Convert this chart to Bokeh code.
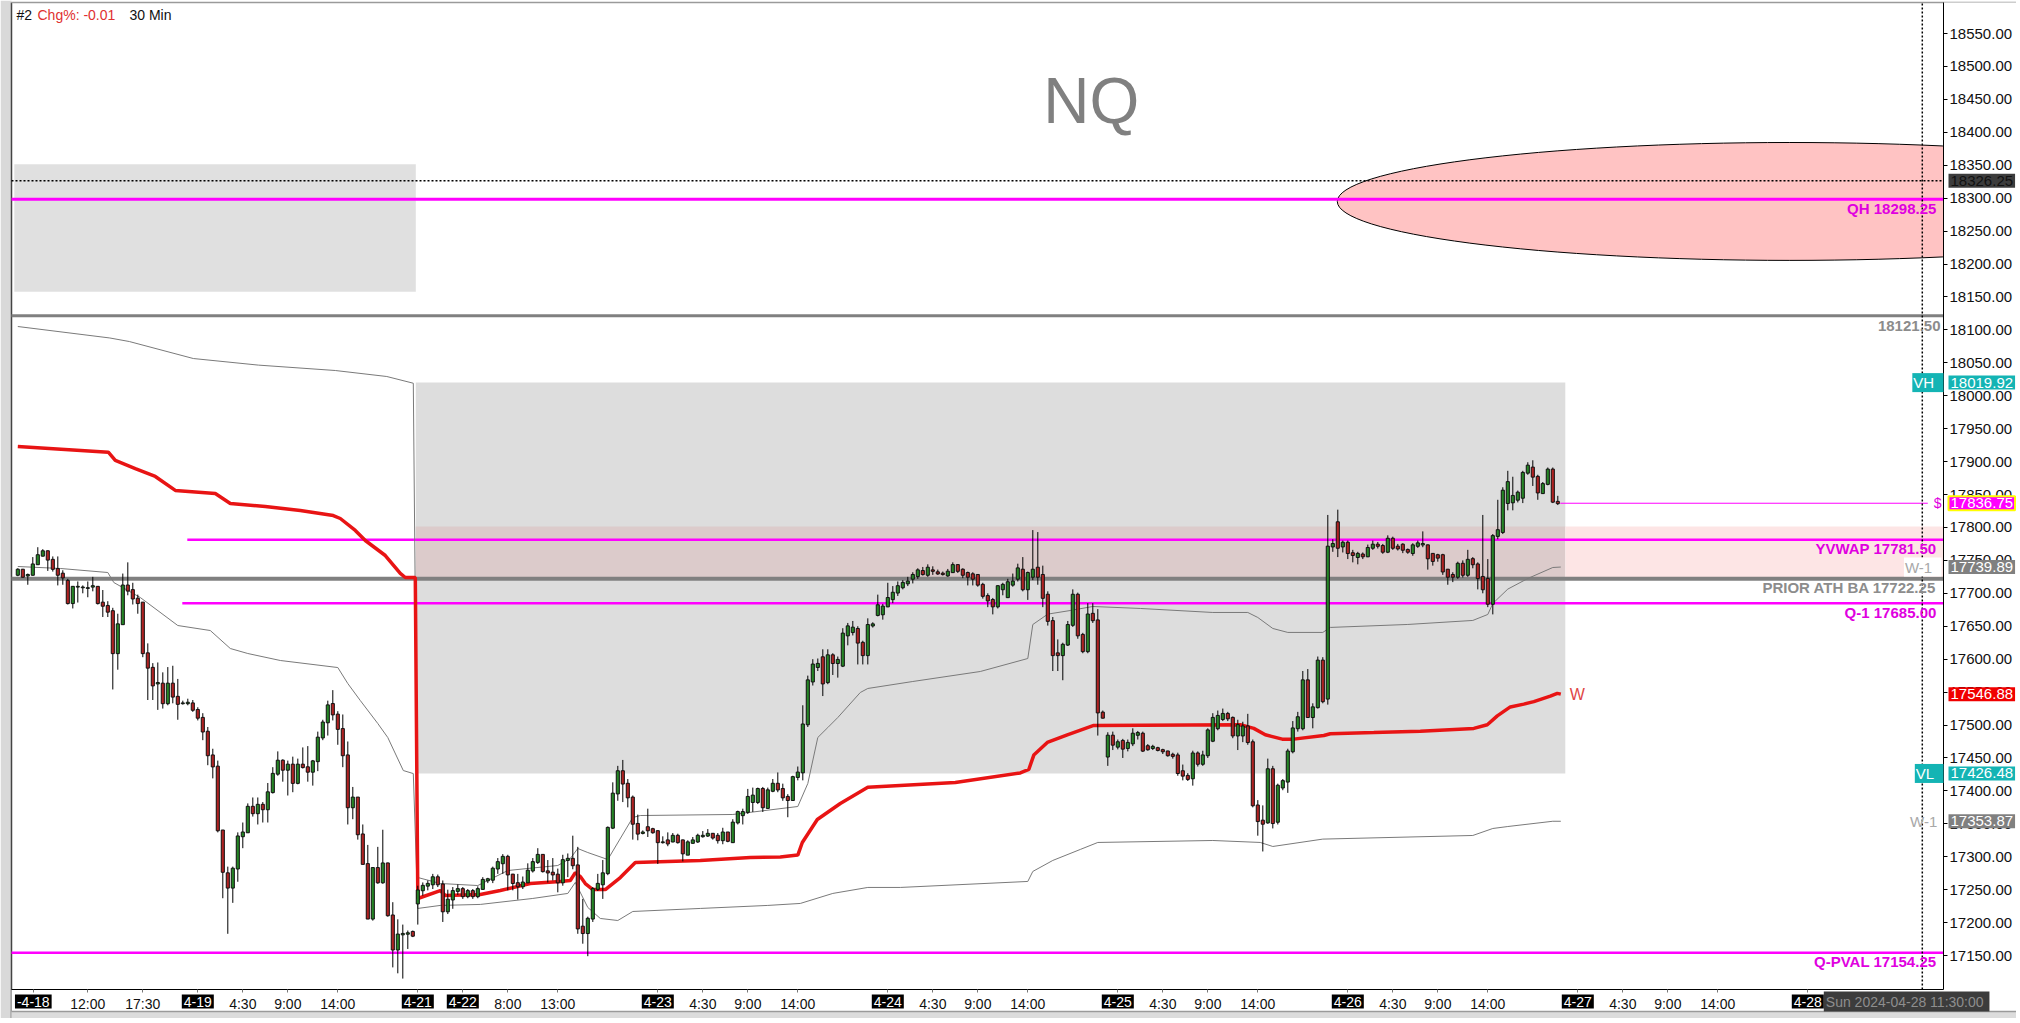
from bokeh.plotting import figure
from bokeh.models import Range1d, FixedTicker, PrintfTickFormatter, Label, ColumnDataSource
from bokeh.embed import file_html
from bokeh.resources import INLINE

FONT = "Liberation Sans"

# ---------------- candles (30 min bars, index = bar number) ----------------
opens = [
 17728,17736,17727,17728,17744,17757,17764,17751,17737,17730,
 17719,17685,17710,17709,17708,17710,17710,17686,17681,17673,
 17609,17653,17712,17705,17692,17686,17609,17587,17563,17563,
 17533,17563,17543,17533,17533,17533,17523,17511,17490,17454,
 17437,17340,17275,17253,17282,17331,17337,17376,17366,17379,
 17372,17398,17426,17446,17432,17440,17412,17440,17436,17429,
 17445,17481,17504,17532,17516,17494,17454,17375,17390,17334,
 17289,17206,17283,17261,17290,17211,17159,17182,17183,17186,
 17229,17249,17256,17258,17269,17258,17217,17235,17248,17251,
 17240,17248,17240,17251,17264,17265,17282,17290,17300,17273,
 17260,17255,17261,17279,17292,17303,17278,17276,17273,17261,
 17295,17297,17287,17194,17184,17206,17251,17258,17275,17344,
 17396,17430,17411,17390,17350,17336,17345,17342,17339,17322,
 17325,17323,17332,17325,17303,17321,17323,17331,17332,17335,
 17332,17325,17337,17322,17352,17363,17368,17383,17383,17403,
 17374,17400,17411,17403,17391,17386,17421,17428,17501,
 17566,17588,17603,17565,17606,17594,17590,17636,17641,17646,
 17625,17606,17651,17667,17668,17680,17691,17701,17709,17715,
 17722,17726,17734,17728,17735,17732,17730,17727,17732,17743,
 17736,17731,17729,17728,17713,17696,17690,17680,17706,17694,
 17713,17722,17736,17706,17725,17739,17728,17698,17658,17609,
 17606,17622,17652,17698,17637,17612,17669,17659,17519,17452,
 17484,17467,17476,17465,17472,17485,17487,17468,17465,17465,
 17462,17460,17455,17454,17430,17423,17419,17457,17441,17454,
 17476,17495,17509,17517,17511,17484,17484,17498,17474,17378,
 17355,17352,17433,17353,17405,17414,17460,17495,17495,17568,
 17512,17527,17598,17540,17771,17808,17771,17777,17761,17755,
 17759,17756,17769,17774,17772,17763,17783,17771,17774,17766,
 17761,17772,17774,17773,17760,17758,17758,17736,17728,17725,
 17745,17728,17752,17744,17725,17722,17684,17787,17793,17837,
 17838,17842,17845,17883,17891,17877,17852,17866,17888,17839]
highs = [
 17738,17737,17730,17755,17770,17767,17765,17756,17756,17735,
 17722,17711,17718,17712,17718,17725,17711,17705,17688,17678,
 17669,17730,17747,17716,17698,17686,17624,17594,17595,17580,
 17588,17590,17570,17537,17540,17538,17527,17518,17497,17464,
 17446,17340,17285,17285,17337,17352,17381,17390,17390,17383,
 17412,17436,17460,17448,17446,17452,17449,17466,17468,17447,
 17490,17508,17537,17553,17521,17516,17475,17406,17390,17349,
 17318,17283,17315,17341,17291,17231,17205,17197,17188,17188,
 17256,17261,17264,17274,17273,17264,17250,17254,17258,17254,
 17251,17251,17255,17269,17268,17285,17298,17304,17303,17274,
 17274,17270,17290,17298,17313,17303,17295,17298,17282,17303,
 17305,17332,17315,17236,17209,17254,17274,17295,17346,17413,
 17438,17447,17418,17393,17364,17340,17373,17344,17340,17331,
 17337,17336,17335,17326,17325,17330,17335,17339,17342,17336,
 17336,17344,17337,17357,17370,17373,17403,17405,17405,17406,
 17405,17418,17428,17411,17395,17423,17437,17530,17575,
 17600,17601,17615,17615,17609,17604,17647,17655,17658,17650,
 17628,17662,17656,17698,17684,17716,17711,17718,17720,17725,
 17732,17738,17740,17744,17741,17736,17733,17737,17747,17744,
 17738,17733,17732,17729,17716,17700,17693,17712,17716,17722,
 17730,17745,17755,17733,17796,17793,17742,17703,17664,17630,
 17625,17658,17706,17701,17640,17685,17685,17676,17522,17489,
 17490,17478,17479,17478,17495,17491,17490,17471,17470,17467,
 17464,17461,17458,17458,17440,17427,17461,17460,17461,17495,
 17518,17522,17525,17520,17513,17508,17505,17517,17478,17386,
 17378,17449,17438,17411,17418,17464,17506,17520,17582,17585,
 17533,17604,17603,17819,17782,17827,17780,17780,17766,17763,
 17762,17774,17780,17778,17775,17788,17786,17775,17776,17768,
 17776,17780,17794,17774,17761,17760,17760,17737,17732,17748,
 17750,17766,17755,17747,17819,17752,17790,17842,17861,17886,
 17877,17856,17886,17899,17902,17880,17869,17891,17891,17848]
lows = [
 17726,17724,17713,17727,17743,17756,17734,17733,17712,17713,
 17683,17677,17686,17700,17694,17703,17683,17664,17664,17554,
 17584,17653,17697,17683,17669,17603,17538,17538,17523,17525,
 17530,17533,17508,17531,17530,17520,17507,17477,17439,17419,
 17337,17237,17183,17230,17262,17313,17337,17361,17349,17352,
 17352,17396,17423,17414,17393,17398,17410,17434,17414,17408,
 17430,17477,17484,17507,17470,17436,17349,17357,17326,17289,
 17206,17203,17259,17259,17209,17132,17123,17115,17160,17178,
 17197,17241,17249,17251,17254,17201,17213,17221,17242,17236,
 17237,17236,17237,17250,17260,17260,17274,17274,17249,17249,
 17235,17251,17260,17276,17289,17276,17261,17264,17246,17256,
 17269,17281,17183,17168,17149,17201,17248,17236,17272,17342,
 17385,17383,17375,17326,17325,17334,17330,17335,17289,17320,
 17316,17322,17320,17293,17303,17320,17321,17329,17330,17326,
 17320,17319,17322,17321,17349,17349,17365,17368,17380,17368,
 17373,17398,17398,17385,17360,17385,17416,17416,17497,
 17560,17582,17544,17562,17576,17572,17588,17621,17636,17592,
 17592,17592,17648,17665,17660,17679,17685,17696,17706,17711,
 17715,17722,17727,17725,17728,17728,17727,17725,17731,17731,
 17723,17712,17712,17710,17692,17679,17668,17677,17697,17693,
 17710,17718,17703,17690,17720,17713,17679,17651,17582,17582,
 17568,17620,17649,17631,17609,17609,17655,17484,17510,17438,
 17462,17463,17450,17460,17468,17478,17459,17461,17462,17460,
 17456,17452,17449,17423,17416,17415,17408,17437,17438,17450,
 17474,17492,17506,17506,17480,17462,17474,17470,17375,17332,
 17308,17350,17343,17349,17401,17397,17457,17490,17492,17511,
 17495,17525,17533,17531,17763,17755,17762,17752,17747,17744,
 17752,17755,17766,17768,17760,17761,17766,17765,17761,17760,
 17757,17769,17770,17736,17742,17748,17728,17713,17717,17722,
 17724,17725,17738,17706,17700,17679,17668,17782,17790,17826,
 17826,17838,17837,17880,17863,17842,17851,17864,17837,17834]
closes = [
 17736,17725,17728,17744,17758,17764,17751,17737,17728,17724,
 17685,17710,17710,17709,17708,17711,17685,17681,17672,17609,
 17653,17712,17704,17692,17685,17609,17587,17560,17564,17533,
 17563,17543,17532,17533,17534,17523,17511,17490,17454,17437,
 17340,17277,17253,17282,17331,17337,17376,17366,17379,17372,
 17398,17426,17446,17432,17440,17412,17440,17436,17429,17445,
 17481,17504,17530,17516,17494,17454,17375,17390,17334,17289,
 17206,17283,17261,17290,17211,17159,17182,17183,17184,17180,
 17249,17256,17259,17269,17258,17217,17235,17248,17251,17240,
 17248,17240,17251,17265,17266,17282,17292,17300,17273,17260,
 17255,17261,17279,17292,17303,17278,17276,17273,17261,17295,
 17297,17287,17191,17184,17206,17251,17259,17275,17344,17396,
 17430,17411,17390,17350,17335,17337,17340,17337,17322,17322,
 17320,17332,17322,17305,17322,17325,17332,17332,17335,17329,
 17325,17337,17324,17352,17368,17368,17391,17393,17403,17375,
 17401,17411,17402,17390,17386,17421,17428,17501,17568,
 17592,17593,17563,17606,17594,17599,17639,17650,17648,17625,
 17606,17652,17653,17682,17680,17693,17701,17711,17716,17718,
 17728,17735,17729,17739,17734,17730,17729,17733,17743,17734,
 17728,17725,17722,17713,17696,17689,17680,17711,17713,17717,
 17718,17738,17706,17731,17736,17725,17693,17658,17606,17606,
 17622,17652,17698,17636,17612,17668,17659,17519,17511,17484,
 17470,17474,17464,17473,17487,17488,17461,17463,17467,17462,
 17460,17454,17453,17427,17423,17418,17457,17441,17454,17492,
 17511,17514,17517,17510,17484,17500,17498,17474,17378,17354,
 17350,17433,17351,17408,17415,17460,17495,17512,17568,17512,
 17527,17598,17536,17771,17775,17769,17777,17761,17758,17760,
 17756,17769,17774,17772,17763,17783,17769,17768,17766,17763,
 17773,17776,17775,17753,17749,17754,17733,17725,17725,17745,
 17728,17751,17744,17723,17706,17684,17787,17796,17856,17869,
 17848,17853,17883,17894,17877,17853,17866,17888,17839,17836.75]

# ---------------- weekly VWAP (red) and its bands (bar index, price) ----------------
vwap_x = [0, 18.1, 19.5, 23.5, 27.5, 31.5, 39.5, 42.5, 49.5, 56.5, 63.1, 64.5, 67.5, 69.5, 73.5, 76.5, 77.5, 79.5,
          80, 84.5, 85.5, 92.5, 96.5, 102.5, 108.5, 110.5, 111.5, 112.5, 113.5, 115, 117.5, 120.5, 123.5, 136.5,
          146.5, 152.5, 156, 156.9, 159.9, 164.5, 170, 187.5, 200.5, 202.2, 203.2, 205.9, 209.9, 215.2, 244.5,
          247.2, 249.5, 252.9, 255.2, 261.2, 262.5, 271.2, 280.5, 291.2, 293.9, 295.9, 298.5, 301.2, 303.2,
          306.5, 307.9, 308.6]
vwap_y = [17922.9, 17914.3, 17901.7, 17889.5, 17877.4, 17856.2, 17851.6, 17836.4, 17831.8, 17825.7, 17818.1,
          17813.6, 17795.4, 17780.2, 17757.4, 17730.1, 17724.0, 17724.0,
          17236.6, 17248.7, 17241.1, 17242.6, 17248.7, 17259.3, 17262.4, 17263.9, 17276.0, 17270.0, 17259.3,
          17250.2, 17250.2, 17268.4, 17291.2, 17294.3, 17298.8, 17299.8, 17302.5, 17321.6, 17356.6, 17380.9,
          17405.5, 17412.8, 17427.2, 17432.5, 17454.4, 17473.5, 17485.2, 17499.4, 17500.4, 17494.9, 17485.2,
          17478.6, 17478.6, 17484.1, 17486.8, 17488.5, 17490.6, 17494.9, 17500.4, 17513.9, 17527.5, 17531.8,
          17535.6, 17543.8, 17548.1, 17546.88]
upper_x = [0, 18.4, 22.3, 35.1, 48.1, 63.5, 73.8, 79.1,
           80, 84.5, 92, 98, 102, 108, 110.5, 112, 114, 118, 123, 124.5, 143, 156, 158, 160, 162, 164, 168.5,
           170, 179, 192.5, 202, 203, 206, 210.5, 215, 224.5, 239, 246, 248, 251, 254, 261, 262.5, 278, 291,
           294, 295, 298, 302, 307, 308.6]
upper_y = [18105.1, 18087.7, 18082.3, 18056.5, 18046.5, 18038.3, 18029.2, 18019.0,
           17268.5, 17259.4, 17256.3, 17279.1, 17282.2, 17286.7, 17297.4, 17312.5, 17306.4, 17295.8, 17359.6,
           17362.6, 17364.2, 17376.3, 17411.2, 17481.1, 17496.2, 17511.4, 17549.4, 17555.5, 17566.1, 17581.3,
           17601.0, 17652.6, 17668.4, 17673.9, 17680.0, 17677.0, 17670.9, 17670.9, 17663.3, 17646.6, 17640.6,
           17640.6, 17648.2, 17652.7, 17658.8, 17667.9, 17684.6, 17706.4, 17722.5, 17739.2, 17739.89]
lower_x = [0, 8.5, 18, 19.2, 24.5, 32, 38.5, 42.5, 46, 52.5, 64, 66, 68.5, 72, 74, 77.1, 79.1,
           80, 84.5, 92.5, 103, 110, 111.5, 114, 116.5, 120, 123, 136.5, 150, 156.5, 163, 170, 176.5, 202,
           203, 207, 212.5, 216, 239, 248.5, 251, 261, 291, 295, 298, 307, 308.6]
lower_y = [17740.7, 17737.7, 17731.6, 17716.4, 17693.6, 17651.1, 17643.5, 17616.2, 17608.6, 17598.0, 17587.3,
           17563.0, 17537.2, 17502.3, 17481.0, 17430.9, 17426.3,
           17221.5, 17226.1, 17227.6, 17236.7, 17244.3, 17261.0, 17223.0, 17206.3, 17203.2, 17216.9, 17221.5,
           17226.1, 17229.1, 17244.3, 17253.4, 17253.4, 17262.5, 17277.7, 17294.4, 17311.1, 17321.7, 17324.7,
           17321.7, 17315.6, 17326.8, 17332.3, 17342.9, 17345.9, 17353.9, 17353.87]

# ---------------- levels ----------------
QH = 18298.25
LAST_HI = 18326.25
PREV_HI = 18121.50
YVWAP = 17781.50
PRIOR_ATH = 17722.25
Q1 = 17685.00
QPVAL = 17154.25
LAST = 17836.75
VH = 18019.92
VL = 17426.48
W_UP = 17739.89
W_DN = 17353.87
W_VWAP = 17546.88
yvwap_start, q1_start, last_start, last_end = 33.9, 32.9, 308.5, 382.0
old_box = (-0.7, 79.6, 18158.0, 18351.5)
week_box = (79.6, 309.5, VL, VH)
pink_top = 17801.5
ellipse_c = (354.4, 18295.0)
ellipse_wh = (181.0, 179.0)
now_bar = 380.9

price_ticks = [17150 + 50 * i for i in range(29)]
time_pos = [14, 25, 45, 54, 64, 98, 108, 137, 146, 156, 183, 192, 202, 229, 238, 248, 275, 284, 294, 321, 330, 340]
time_txt = ["12:00", "17:30", "4:30", "9:00", "14:00", "8:00", "13:00", "4:30", "9:00", "14:00",
            "4:30", "9:00", "14:00", "4:30", "9:00", "14:00", "4:30", "9:00", "14:00", "4:30", "9:00", "14:00"]
date_pos = [3.1, 36, 80, 89, 128, 174, 220, 266, 312, 358]
date_txt = ["-4-18", "4-19", "4-21", "4-22", "4-23", "4-24", "4-25", "4-26", "4-27", "4-28"]

# ---------------- geometry: one frame = whole canvas, chart area inside it ----------------
W_PX, H_PX = 2016, 1018
XA = -3.46                      # bar units at the canvas left edge (5 px per bar)
XB = XA + W_PX / 5.0
YB = 18600.11                   # price at canvas top (0.6586 px per point)
YA = YB - H_PX / 0.6586
CL, CR = -1.26, 385.14          # chart area left / right (bars)
CT, CB = 18597.1, 17098.4       # chart area top / bottom (price)

p = figure(frame_width=W_PX, frame_height=H_PX, x_range=Range1d(XA, XB), y_range=Range1d(YA, YB),
           y_axis_location="right", output_backend="svg", toolbar_location=None, min_border=0)
p.grid.visible = False
p.outline_line_color = None
p.background_fill_color = "white"
p.border_fill_color = "white"

yax = p.yaxis[0]
yax.fixed_location = CR
yax.bounds = (CB, CT)
yax.ticker = FixedTicker(ticks=price_ticks)
yax.formatter = PrintfTickFormatter(format="%.2f")
yax.major_label_text_font = FONT
yax.major_label_text_font_size = "15px"
yax.major_label_text_color = "#111111"
yax.major_tick_out = 4
yax.major_tick_in = 0
yax.minor_tick_out = 0
yax.minor_tick_in = 0
yax.major_label_standoff = 2
yax.axis_line_color = "black"

xax = p.xaxis[0]
xax.fixed_location = CB
xax.bounds = (CL, CR)
xax.ticker = FixedTicker(ticks=time_pos + date_pos)
ov = {t: s for t, s in zip(time_pos, time_txt)}
for d in date_pos:
    ov[d] = ""
xax.major_label_overrides = ov
xax.major_label_text_font = FONT
xax.major_label_text_font_size = "14px"
xax.major_label_text_color = "#111111"
xax.major_tick_out = 3
xax.major_tick_in = 0
xax.minor_tick_out = 0
xax.minor_tick_in = 0
xax.major_label_standoff = 3
xax.axis_line_color = "black"
xax.major_tick_line_color = "#777777"

# window borders
p.quad(left=[XA], right=[CL], bottom=[YA], top=[YB], fill_color="#d9d9d9", line_color=None)
p.segment(x0=[CL], x1=[CL], y0=[YA], y1=[CT], line_color="#444444", line_width=1.5)
p.segment(x0=[CL], x1=[XB], y0=[CT], y1=[CT], line_color="#9a9a9a", line_width=1.5)

# zones
p.quad(left=[old_box[0]], right=[old_box[1]], bottom=[old_box[2]], top=[old_box[3]],
       fill_color="#e0e0e0", line_color=None)
p.quad(left=[week_box[0]], right=[week_box[1]], bottom=[week_box[2]], top=[week_box[3]],
       fill_color="#dddddd", line_color=None)
p.quad(left=[week_box[0]], right=[week_box[1]], bottom=[PRIOR_ATH], top=[pink_top],
       fill_color="#dccbcb", line_color=None)
p.quad(left=[week_box[1]], right=[CR], bottom=[PRIOR_ATH], top=[pink_top],
       fill_color="#fde5e5", line_color=None)
p.ellipse(x=[ellipse_c[0]], y=[ellipse_c[1]], width=[ellipse_wh[0]], height=[ellipse_wh[1]],
          fill_color="#ffc3c3", line_color="black", line_width=1)

# horizontal levels (chart area only)
def hseg(y, x0, color, width, dash="solid"):
    p.segment(x0=[x0], x1=[CR], y0=[y], y1=[y], line_color=color, line_width=width, line_dash=dash)

hseg(LAST_HI, CL, "black", 1.5, "2 2")
hseg(QH, CL, "#ff00ff", 3)
hseg(PREV_HI, CL, "#808080", 3)
hseg(PRIOR_ATH, CL, "#808080", 4)
hseg(QPVAL, CL, "#ff00ff", 2.5)
hseg(YVWAP, yvwap_start, "#ff00ff", 2.5)
hseg(Q1, q1_start, "#ff00ff", 2.5)
p.segment(x0=[last_start], x1=[last_end], y0=[LAST], y1=[LAST], line_color="#ff00ff", line_width=1)

# bands and vwap
p.line(upper_x, upper_y, line_color="#7a7a7a", line_width=1)
p.line(lower_x, lower_y, line_color="#7a7a7a", line_width=1)
p.line(vwap_x, vwap_y, line_color="#e81414", line_width=3.5)

# candles
n = min(len(opens), len(highs), len(lows), len(closes))
bars = list(range(n))
body_top = [max(opens[i], closes[i]) + 0.6 for i in bars]
body_bot = [min(opens[i], closes[i]) - 0.6 for i in bars]
colors = ["#268626" if closes[i] >= opens[i] else "#b02323" for i in bars]
src = ColumnDataSource(dict(x=bars, h=highs[:n], l=lows[:n], t=body_top, b=body_bot, c=colors))
p.segment(x0="x", x1="x", y0="l", y1="h", source=src, line_color="black", line_width=1)
p.vbar(x="x", width=0.62, top="t", bottom="b", fill_color="c", line_color="#111111", line_width=1, source=src)

# current-time line
p.segment(x0=[now_bar], x1=[now_bar], y0=[CB], y1=[CT], line_color="black", line_width=1.5, line_dash="2 2")

# keep the price-scale column and time row clean (the ellipse runs past the chart edge)
p.quad(left=[CR], right=[XB], bottom=[YA], top=[CT], fill_color="white", line_color=None)
p.quad(left=[CL], right=[XB], bottom=[YA], top=[CB], fill_color="white", line_color=None)
p.quad(left=[CL], right=[XB], bottom=[YA], top=[YB - 1011 / 0.6586], fill_color="#dcdcdc", line_color=None)
p.segment(x0=[CL], x1=[XB], y0=[YB - 1011 / 0.6586], y1=[YB - 1011 / 0.6586], line_color="#9a9a9a",
          line_width=1.5)


def lab(x, y, text, color, size="15px", align="right", xo=0, yo=0, bold=False, bg=None, border=None, pad=0,
        baseline="middle", font=FONT):
    l = Label(x=x, y=y, text=text, text_color=color, text_font_size=size, text_align=align,
              text_baseline=baseline, x_offset=xo, y_offset=yo, text_font=font,
              text_font_style="bold" if bold else "normal", padding=pad)
    if bg is not None:
        l.background_fill_color = bg
    if border is not None:
        l.border_line_color = border
        l.border_line_width = 2
    p.add_layout(l)


# level labels inside the chart
lab(CR, QH, "QH  18298.25", "#e000e0", xo=-3, yo=-9, bold=True)
lab(CR, PREV_HI, "18121.50", "#8c8c8c", xo=-3, yo=-10, bold=True)
lab(CR, YVWAP, "YVWAP  17781.50", "#e000e0", xo=-3, yo=-9, bold=True)
lab(CR, PRIOR_ATH, "PRIOR ATH BA  17722.25", "#8c8c8c", xo=-3, yo=-9, bold=True)
lab(CR, Q1, "Q-1  17685.00", "#e000e0", xo=-3, yo=-9, bold=True)
lab(CR, QPVAL, "Q-PVAL  17154.25", "#e000e0", xo=-3, yo=-9, bold=True)
lab(CR, W_UP, " W-1 ", "#a8a8a8", xo=-2, bg="white", pad=1)
lab(CR, W_DN, "W-1 ", "#a8a8a8", xo=-2)
lab(CR, VH, " VH ", "white", xo=0, bg="#14b4b4", pad=1)
lab(CR, VL, " VL ", "white", xo=0, bg="#14b4b4", pad=1)
lab(vwap_x[-1] + 1.8, W_VWAP, "W", "#e04646", align="left", size="16px")
lab(last_end + 1.2, LAST, "$", "#e000e0", align="left", size="14px")

# price boxes on the axis
for val, bg, fg, bd in [(LAST_HI, "#3c3c3c", "#111111", None), (VH, "#14b4b4", "white", None),
                        (LAST, "#ff00ff", "white", "#ffff00"), (W_UP, "#808080", "white", None),
                        (W_VWAP, "#f00000", "white", None), (VL, "#14b4b4", "white", None),
                        (W_DN, "#808080", "white", None)]:
    lab(CR, val, "%.2f" % val, fg, align="left", xo=5, bg=bg, border=bd, pad=2)

# date boxes on the time axis
for d, t in zip(date_pos, date_txt):
    lab(d, CB, t, "white", align="center", yo=-12, bg="black", pad=2, size="14px")
lab(361.2, CB, "Sun 2024-04-28  11:30:00", "#8e8e8e", align="left", yo=-12, bg="#3c3c3c", pad=2, size="14px")

# title texts
lab(214.7, 18448, "NQ", "#808080", align="center", size="64px")
lab(XA, YB, "#2", "#111111", align="left", xo=16, yo=-6, size="14px", baseline="top")
lab(XA, YB, "Chg%: -0.01", "#e03030", align="left", xo=37, yo=-6, size="14px", baseline="top")
lab(XA, YB, "30 Min", "#111111", align="left", xo=129, yo=-6, size="14px", baseline="top")

open("out.html", "w").write(file_html(p, INLINE))
